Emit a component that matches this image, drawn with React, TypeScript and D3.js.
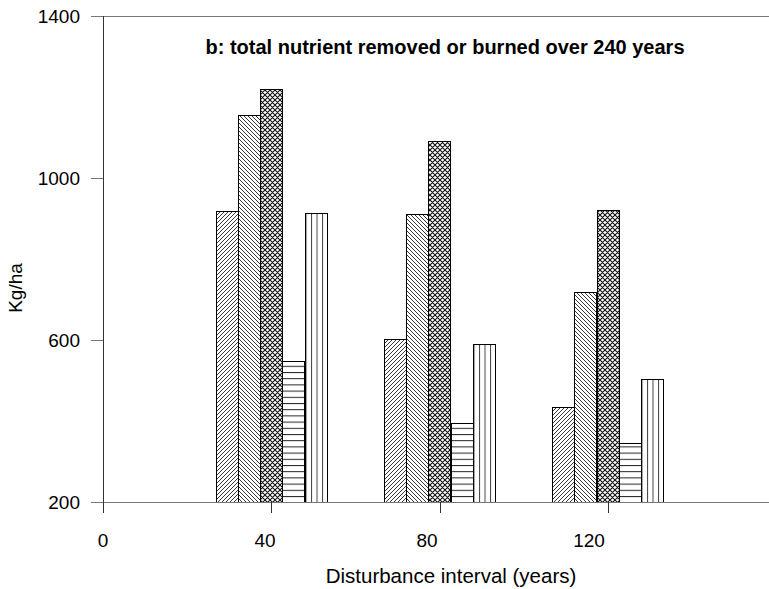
import * as d3 from "d3";

// values (Kg/ha)
const intervals = [40, 80, 120];
const seriesNames = ["s1", "s2", "s3", "s4", "s5"];
const s1 = [918, 602, 435];
const s2 = [1155, 910, 719];
const s3 = [1219, 1091, 921];
const s4 = [548, 394, 346];
const s5 = [913, 589, 504];
const allSeries = [s1, s2, s3, s4, s5];
const yTicks = [200, 600, 1000, 1400];
const xTicks = [0, 40, 80, 120];

const W = 769;
const H = 589;
const FONT = "'Liberation Sans', Arial, sans-serif";

export default function App() {
  const x = d3.scaleLinear().domain([0, 160]).range([103, 776]);
  // the labels under the x axis sit a bit left of their ticks in the original
  const xLab = d3.scaleLinear().domain([0, 160]).range([103, 751]);
  const y = d3.scaleLinear().domain([200, 1400]).range([502, 16]);
  const groupW = x(26.4) - x(0);
  const band = d3
    .scaleBand<number>()
    .domain(d3.range(seriesNames.length))
    .range([-groupW / 2, groupW / 2])
    .padding(0);

  const fills = ["url(#p1)", "url(#p2)", "url(#p3)", "url(#p4)", "url(#p5)"];

  return (
    <svg
      width={W}
      height={H}
      style={{ position: "absolute", left: 0, top: 0, fontFamily: FONT }}
    >
      <defs>
        <pattern id="p1" width="4" height="4" patternUnits="userSpaceOnUse">
          <rect width="4" height="4" fill="#fff" />
          <path d="M-1,1 l2,-2 M0,4 l4,-4 M3,5 l2,-2" stroke="#222" strokeWidth="0.9" />
        </pattern>
        <pattern id="p2" width="4" height="4" patternUnits="userSpaceOnUse">
          <rect width="4" height="4" fill="#fff" />
          <path d="M-1,3 l2,2 M0,0 l4,4 M3,-1 l2,2" stroke="#222" strokeWidth="0.9" />
        </pattern>
        <pattern id="p3" width="5" height="5" patternUnits="userSpaceOnUse">
          <rect width="5" height="5" fill="#fff" />
          <path
            d="M0,0 L5,5 M-1,4 l2,2 M4,-1 l2,2 M0,5 L5,0 M-1,1 l2,-2 M4,6 l2,-2"
            stroke="#111"
            strokeWidth="1.1"
          />
        </pattern>
        <pattern id="p4" width="10" height="6.2" patternUnits="userSpaceOnUse">
          <rect width="10" height="6.2" fill="#fff" />
          <line x1="0" x2="10" y1="0.5" y2="0.5" stroke="#222" strokeWidth="1" />
        </pattern>
        <pattern
          id="p5"
          width="0.25"
          height="1"
          patternUnits="objectBoundingBox"
        >
          <rect width="20" height="600" fill="#fff" />
          <line x1="0.5" x2="0.5" y1="0" y2="600" stroke="#444" strokeWidth="1" />
        </pattern>
      </defs>

      {/* title */}
      <text
        x={445}
        y={54}
        textAnchor="middle"
        fontSize={20}
        fontWeight="bold"
        fill="#000"
      >
        b: total nutrient removed or burned over 240 years
      </text>

      {/* bars */}
      {allSeries.map((vals, si) =>
        vals.map((v, gi) => {
          const bx = x(intervals[gi]) + (band(si) as number);
          return (
            <rect
              key={`${si}-${gi}`}
              x={Math.round(bx) + 0.5}
              y={Math.round(y(v)) + 0.5}
              width={Math.round(band.bandwidth())}
              height={Math.round(y(200)) - Math.round(y(v))}
              fill={fills[si]}
              stroke="#000"
              strokeWidth={1}
            />
          );
        })
      )}

      {/* top line */}
      <line x1={91} x2={W} y1={y(1400) + 0.5} y2={y(1400) + 0.5} stroke="#777" />
      {/* x axis */}
      <line x1={91} x2={W} y1={y(200) + 0.5} y2={y(200) + 0.5} stroke="#777" />
      {xTicks.map((t) => (
        <g key={t}>
          <line
            x1={Math.round(x(t)) + 0.5}
            x2={Math.round(x(t)) + 0.5}
            y1={y(200)}
            y2={y(200) + 11}
            stroke="#333"
          />
          <text x={xLab(t)} y={547} textAnchor="middle" fontSize={19}>
            {t}
          </text>
        </g>
      ))}
      {/* y axis */}
      <line x1={103.5} x2={103.5} y1={y(1400)} y2={y(200)} stroke="#333" />
      {yTicks.map((t) => (
        <g key={t}>
          <line x1={91} x2={103} y1={y(t) + 0.5} y2={y(t) + 0.5} stroke="#777" />
          <text x={80} y={y(t) + 7} textAnchor="end" fontSize={19}>
            {t}
          </text>
        </g>
      ))}

      <text x={451} y={583} textAnchor="middle" fontSize={20.5}>
        Disturbance interval (years)
      </text>
      <text
        transform={`translate(22,${288}) rotate(-90)`}
        textAnchor="middle"
        fontSize={19}
      >
        Kg/ha
      </text>
    </svg>
  );
}
